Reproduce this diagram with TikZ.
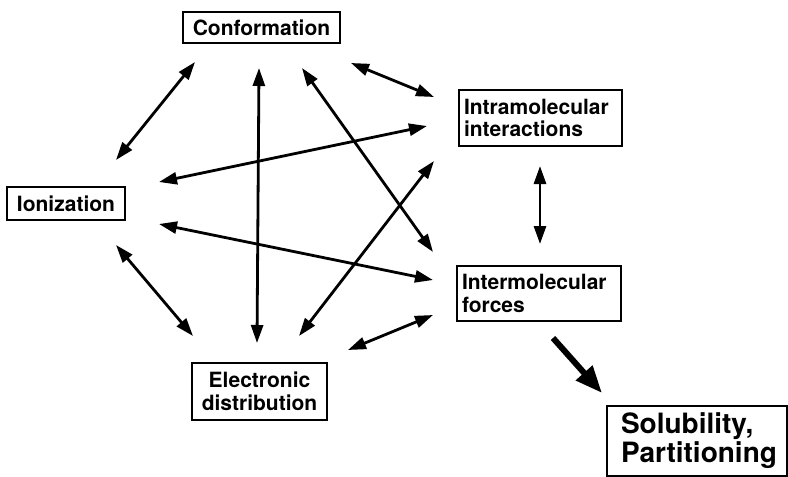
\documentclass[tikz,border=0pt]{standalone}
\usepackage{fontspec}
\setmainfont{TeX Gyre Heros}
\usetikzlibrary{arrows.meta}
\begin{document}
\begin{tikzpicture}[x=1pt,y=-1pt,
  box/.style={draw,line width=1.3pt,inner sep=0pt,font=\bfseries\fontsize{21}{22.5}\selectfont},
  dbl/.style={line width=2.8pt,{Triangle[length=18pt,width=12pt]}-{Triangle[length=18pt,width=12pt]}},
  big/.style={line width=6pt,-{Triangle[length=27pt,width=21pt]}}]
\useasboundingbox (0,0) rectangle (788,477);
% boxes
\node[box,minimum width=157pt,minimum height=31pt,align=center] (conf) at (261.5,27.5) {Conformation};
\node[box,minimum width=118pt,minimum height=33pt,align=center] (ion) at (66,203.5) {Ionization};
\node[box,minimum width=163pt,minimum height=56pt,text width=153pt,align=left] (intra) at (540.5,118) {Intramolecular\\interactions};
\node[box,minimum width=164pt,minimum height=55pt,text width=154pt,align=left] (inter) at (539,293.5) {Intermolecular\\forces};
\node[box,minimum width=135pt,minimum height=57pt,align=center] (elec) at (259.5,391.5) {Electronic\\distribution};
\node[box,minimum width=180pt,minimum height=70pt,text width=152pt,align=left,font=\bfseries\fontsize{28}{29}\selectfont] (sol) at (697,441) {Solubility,\\Partitioning};
% arrow end points
\coordinate (a1) at (195,62);  \coordinate (b1) at (116,160);
\coordinate (a2) at (259,68);  \coordinate (b2) at (257,343);
\coordinate (a3) at (302,68);  \coordinate (b3) at (433,252);
\coordinate (a4) at (159,182); \coordinate (b4) at (427,126);
\coordinate (a5) at (159,224); \coordinate (b5) at (433,280);
\coordinate (a6) at (116,245); \coordinate (b6) at (193,336);
\coordinate (a7) at (299,336); \coordinate (b7) at (434,161);
\coordinate (a8) at (351,63);  \coordinate (b8) at (434,97);
\coordinate (a9) at (348,350); \coordinate (b9) at (433,315);
\coordinate (a10) at (540,166); \coordinate (b10) at (540,244);
\coordinate (a11) at (553,338); \coordinate (b11) at (602,393);
% arrows
\draw[dbl] (a1) -- (b1);
\draw[dbl] (a2) -- (b2);
\draw[dbl] (a3) -- (b3);
\draw[dbl] (a4) -- (b4);
\draw[dbl] (a5) -- (b5);
\draw[dbl] (a6) -- (b6);
\draw[dbl] (a7) -- (b7);
\draw[dbl] (a8) -- (b8);
\draw[dbl] (a9) -- (b9);
\draw[dbl] (a10) -- (b10);
\draw[big] (a11) -- (b11);
\end{tikzpicture}
\end{document}
